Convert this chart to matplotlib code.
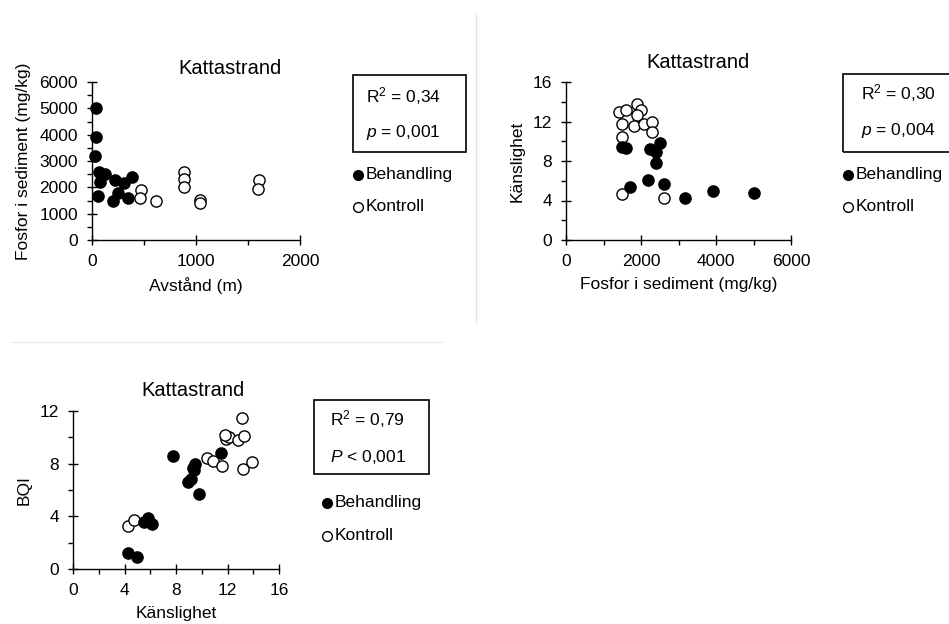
import matplotlib
matplotlib.use("Agg")
import matplotlib.pyplot as plt
from matplotlib.lines import Line2D

plt.rcParams['font.family'] = ['Liberation Sans', 'DejaVu Sans']
plt.rcParams['mathtext.fontset'] = 'custom'
plt.rcParams['mathtext.rm'] = 'Liberation Sans'
plt.rcParams['mathtext.it'] = 'Liberation Sans:italic'

# panel 1: Avstånd (m) vs Fosfor i sediment (mg/kg)
p1_beh_x = [40, 40, 30, 63, 126, 79, 54, 100, 221, 306, 252, 205, 347, 385]
p1_beh_y = [5000, 3900, 3200, 2600, 2500, 2210, 1680, 2450, 2280, 2170, 1800, 1500, 1580, 2400]
p1_kon_x = [473, 457, 615, 883, 883, 883, 1041, 1041, 1610, 1600]
p1_kon_y = [1900, 1600, 1480, 2600, 2300, 2000, 1520, 1400, 2280, 1920]

# panel 2: Fosfor i sediment vs Känslighet
p2_beh_x = [1490, 1610, 2250, 2410, 2500, 2410, 1700, 2180, 2600, 3180, 3910, 5000]
p2_beh_y = [9.4, 9.3, 9.2, 8.9, 9.8, 7.8, 5.4, 6.1, 5.7, 4.3, 5.0, 4.8]
p2_kon_x = [1400, 1600, 1890, 2000, 1890, 1490, 1800, 2090, 2290, 2290, 1490, 1490, 2600]
p2_kon_y = [13.0, 13.2, 13.8, 13.2, 12.7, 11.7, 11.5, 11.7, 12.0, 10.9, 10.4, 4.7, 4.3]

# panel 3: Känslighet vs BQI
p3_beh_x = [4.3, 5.0, 5.8, 6.1, 5.5, 7.8, 8.9, 9.2, 9.4, 9.5, 9.8, 11.5, 9.3]
p3_beh_y = [1.2, 0.9, 3.9, 3.4, 3.6, 8.6, 6.6, 6.8, 7.5, 8.0, 5.7, 8.8, 7.7]
p3_kon_x = [4.3, 4.7, 10.4, 10.9, 11.6, 11.9, 12.1, 11.8, 12.8, 13.3, 13.1, 13.2, 13.9]
p3_kon_y = [3.3, 3.7, 8.4, 8.2, 7.8, 9.9, 10.0, 10.2, 9.8, 10.1, 11.5, 7.6, 8.1]

panels = [
    dict(rect=[92/949, 1-240/624, 208/949, 158/624],
         bx=p1_beh_x, by=p1_beh_y, kx=p1_kon_x, ky=p1_kon_y,
         xlim=2000, xmaj=[0, 1000, 2000], xmin=500,
         ylim=6000, ymaj=[0, 1000, 2000, 3000, 4000, 5000, 6000], ymin=500,
         xlabel='Avstånd (m)', ylabel='Fosfor i sediment (mg/kg)',
         title=(230, 68), box=(353, 75, 466, 152),
         stats=('R$^2$ = 0,34', '$p$ = 0,001'), stat_x=366, stat_y=(96, 133),
         leg_x=358, leg_y=(175, 207)),
    dict(rect=[566/949, 1-240/624, 225/949, 158/624],
         bx=p2_beh_x, by=p2_beh_y, kx=p2_kon_x, ky=p2_kon_y,
         xlim=6000, xmaj=[0, 2000, 4000, 6000], xmin=1000,
         ylim=16, ymaj=[0, 4, 8, 12, 16], ymin=2,
         xlabel='Fosfor i sediment (mg/kg)', ylabel='Känslighet',
         title=(698, 63), box=(843, 74, 955, 152),
         stats=('R$^2$ = 0,30', '$p$ = 0,004'), stat_x=861, stat_y=(93, 131),
         leg_x=848, leg_y=(175, 207)),
    dict(rect=[73/949, 1-569/624, 206/949, 158/624],
         bx=p3_beh_x, by=p3_beh_y, kx=p3_kon_x, ky=p3_kon_y,
         xlim=16, xmaj=[0, 4, 8, 12, 16], xmin=2,
         ylim=12, ymaj=[0, 4, 8, 12], ymin=2,
         xlabel='Känslighet', ylabel='BQI',
         title=(193, 390), box=(314, 400, 429, 474),
         stats=('R$^2$ = 0,79', '$P$ < 0,001'), stat_x=330, stat_y=(419, 457),
         leg_x=327, leg_y=(503, 536)),
]

W, H = 949, 624
fig = plt.figure(figsize=(9.49, 6.24), dpi=100)


def fx(px):
    return px / W


def fy(py):
    return 1 - py / H


for p in panels:
    ax = fig.add_axes(p['rect'])
    ax.scatter(p['kx'], p['ky'], s=65, facecolor='white', edgecolor='black',
               linewidth=1.0, zorder=3, clip_on=False)
    ax.scatter(p['bx'], p['by'], s=65, facecolor='black', edgecolor='black',
               linewidth=1.0, zorder=4, clip_on=False)
    ax.set_xlim(0, p['xlim'])
    ax.set_ylim(0, p['ylim'])
    ax.set_xticks(p['xmaj'])
    ax.set_yticks(p['ymaj'])
    ax.set_xticks([v for v in range(0, p['xlim'] + 1, p['xmin']) if v not in p['xmaj']], minor=True)
    ax.set_yticks([v for v in range(0, p['ylim'] + 1, p['ymin']) if v not in p['ymaj']], minor=True)
    for s in ['top', 'right']:
        ax.spines[s].set_visible(False)
    for s in ['left', 'bottom']:
        ax.spines[s].set_linewidth(1.0)
    ax.tick_params(which='major', direction='inout', length=7, width=1.0,
                   labelsize=12.5, pad=6.5)
    ax.tick_params(which='minor', direction='out', length=3.5, width=1.0)
    ax.set_xlabel(p['xlabel'], fontsize=12.5, labelpad=6)
    ax.set_ylabel(p['ylabel'], fontsize=12.5, labelpad=6)

    fig.text(fx(p['title'][0]), fy(p['title'][1]), 'Kattastrand', fontsize=14.5,
             ha='center', va='center')
    x0, y0, x1, y1 = p['box']
    fig.patches.append(plt.Rectangle((fx(x0), fy(y1)), fx(x1 - x0), (y1 - y0) / H,
                                     transform=fig.transFigure, fill=False,
                                     edgecolor='black', linewidth=1.2))
    for txt, yy in zip(p['stats'], p['stat_y']):
        fig.text(fx(p['stat_x']), fy(yy), txt, fontsize=12.5, ha='left', va='center')
    for lab, fc, yy in zip(['Behandling', 'Kontroll'], ['black', 'white'], p['leg_y']):
        fig.add_artist(Line2D([fx(p['leg_x'])], [fy(yy)], transform=fig.transFigure,
                              marker='o', markersize=7, markerfacecolor=fc,
                              markeredgecolor='black', markeredgewidth=1.0, linestyle='none'))
        fig.text(fx(p['leg_x'] + 8), fy(yy), lab, fontsize=12.5, ha='left', va='center')

# light separator lines between the panels
fig.add_artist(Line2D([fx(476), fx(476)], [fy(15), fy(322)], transform=fig.transFigure,
                      color='#e3e3e3', linewidth=1.0))
fig.add_artist(Line2D([fx(10), fx(444)], [fy(342), fy(342)], transform=fig.transFigure,
                      color='#eeeeee', linewidth=1.0))

fig.savefig('out.png', dpi=100)
